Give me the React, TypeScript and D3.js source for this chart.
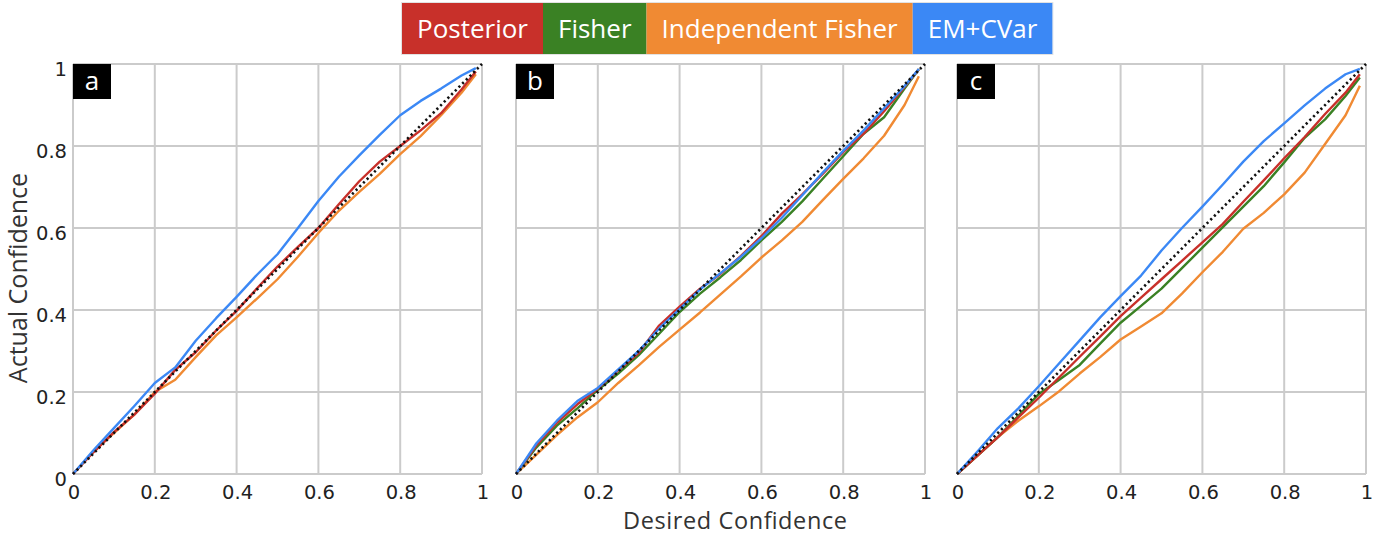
import React from "react";
import * as d3 from "d3";

// ---- Data ----
const desired = [0, 0.05, 0.1, 0.15, 0.2, 0.25, 0.3, 0.35, 0.4, 0.45, 0.5, 0.55, 0.6, 0.65, 0.7, 0.75, 0.8, 0.85, 0.9, 0.95, 0.985];

const aPosterior = [0, .053, .102, .145, .196, .254, .297, .35, .398, .453, .506, .554, .60, .658, .714, .762, .80, .838, .88, .938, .982];
const aIndependent = [0, .055, .10, .145, .20, .23, .285, .338, .382, .428, .475, .53, .588, .642, .688, .732, .78, .824, .875, .93, .975];
const aEmCvar = [0, .058, .112, .166, .222, .26, .325, .38, .432, .486, .536, .60, .666, .725, .777, .827, .875, .91, .94, .972, .99];

const bPosterior = [0, .07, .125, .17, .208, .253, .295, .362, .408, .452, .488, .532, .58, .635, .682, .732, .785, .83, .885, .944, .987];
const bFisher = [0, .065, .118, .16, .205, .245, .29, .342, .395, .44, .48, .522, .57, .615, .665, .72, .775, .83, .87, .94, .987];
const bIndependent = [0, .047, .095, .138, .175, .222, .265, .31, .352, .394, .438, .482, .528, .57, .615, .668, .72, .77, .825, .90, .97];
const bEmCvar = [0, .075, .13, .178, .21, .255, .30, .355, .402, .45, .49, .53, .575, .625, .68, .735, .788, .838, .892, .946, .988];

const cPosterior = [0, .045, .09, .138, .186, .236, .286, .335, .385, .43, .475, .52, .565, .61, .664, .716, .77, .822, .878, .93, .975];
const cFisher = [0, .045, .09, .142, .195, .23, .266, .318, .369, .41, .452, .502, .552, .602, .652, .702, .76, .82, .865, .922, .967];
const cIndependent = [0, .045, .09, .13, .165, .202, .245, .285, .328, .36, .392, .44, .492, .542, .598, .637, .682, .735, .805, .875, .947];
const cEmCvar = [0, .055, .112, .16, .214, .27, .326, .382, .434, .484, .545, .60, .652, .706, .762, .812, .855, .899, .94, .975, .988];

const seriesNames = ["Posterior", "Fisher", "Independent Fisher", "EM+CVar"];
const seriesColors = ["#c8302a", "#3a8124", "#f08a33", "#3b88f5"];
const panelLabels = ["a", "b", "c"];
const tickValues = [0, 0.2, 0.4, 0.6, 0.8, 1];
const tickLabels = ["0", "0.2", "0.4", "0.6", "0.8", "1"];

// panel -> series (null = not drawn)
const panels: (number[] | null)[][] = [
  [aPosterior, null, aIndependent, aEmCvar],
  [bPosterior, bFisher, bIndependent, bEmCvar],
  [cPosterior, cFisher, cIndependent, cEmCvar],
];

// ---- Layout ----
const W = 1390, H = 535;
const panelLefts = [73, 516, 957];
const PW = 409, PTOP = 64, PH = 410;
const drawOrder = [2, 1, 0, 3];

function measure(text: string, font: string) {
  const c = document.createElement("canvas").getContext("2d")!;
  c.font = font;
  return c.measureText(text).width;
}

export default function App() {
  const y = d3.scaleLinear().domain([0, 1]).range([PTOP + PH, PTOP]);
  const legendFont = "26px 'Open Sans'";
  const pad = 15;
  const widths = seriesNames.map((n) => measure(n, legendFont) + 2 * pad);
  let lx = 402;
  const legendX = widths.map((w) => { const v = lx; lx += w; return v; });
  const tickFont = "19.5px 'DejaVu Sans'";
  const titleFont = "25px 'Open Sans'";

  return (
    <svg width={W} height={H} style={{ position: "absolute", left: 0, top: 0, background: "#fff" }}>
      {/* legend */}
      <g>
        <rect x={401.5} y={2.5} width={lx - 401} height={52} fill="none" stroke="#e2e2e2" strokeWidth={1} />
        {seriesNames.map((n, i) => (
          <g key={n}>
            <rect x={legendX[i]} y={3} width={widths[i]} height={51} fill={seriesColors[i]} />
            <text x={legendX[i] + widths[i] / 2} y={37.5} textAnchor="middle" fill="#fff"
              style={{ font: legendFont }}>{n}</text>
          </g>
        ))}
      </g>

      {panels.map((series, p) => {
        const x = d3.scaleLinear().domain([0, 1]).range([panelLefts[p], panelLefts[p] + PW]);
        const line = d3.line<number>().x((_, i) => x(desired[i])).y((d) => y(d));
        const diag = d3.line<number>().x((d) => x(d)).y((d) => y(d));
        return (
          <g key={p}>
            {tickValues.map((t) => (
              <line key={"gx" + t} x1={x(t)} x2={x(t)} y1={y(0)} y2={y(1)} stroke="#cbcbcb" strokeWidth={2} />
            ))}
            {tickValues.map((t) => (
              <line key={"gy" + t} x1={x(0)} x2={x(1)} y1={y(t)} y2={y(t)} stroke="#cbcbcb" strokeWidth={2} />
            ))}
            {drawOrder.map((si) => {
              const s = series[si];
              if (!s) return null;
              return <path key={si} d={line(s)!} fill="none" stroke={seriesColors[si]} strokeWidth={2.4} strokeLinejoin="round" />;
            })}
            <path d={diag([0, 1])!} fill="none" stroke="#111" strokeWidth={2.6} strokeDasharray="2.2,3" />
            <rect x={x(0)} y={PTOP} width={38} height={35} fill="#000" />
            <text x={x(0) + 19} y={PTOP + 26} textAnchor="middle" fill="#fff" style={{ font: "26px 'Open Sans'" }}>{panelLabels[p]}</text>
            {tickValues.map((t, i) => (
              <text key={"tx" + t} x={x(t) + 1} y={498.5} textAnchor="middle" fill="#222"
                style={{ font: tickFont }}>{tickLabels[i]}</text>
            ))}
            {p === 0 && tickValues.map((t, i) => (
              <text key={"ty" + t} x={67} y={y(t) + 12} textAnchor="end" fill="#222"
                style={{ font: tickFont }}>{tickLabels[i]}</text>
            ))}
          </g>
        );
      })}

      <text x={735} y={528.5} textAnchor="middle" fill="#333" textLength={224} lengthAdjust="spacing"
        style={{ font: "23.5px 'Open Sans'" }}>Desired Confidence</text>
      <text transform={`translate(27,278) rotate(-90)`} textAnchor="middle" fill="#333" style={{ font: titleFont }}>Actual Confidence</text>
    </svg>
  );
}
